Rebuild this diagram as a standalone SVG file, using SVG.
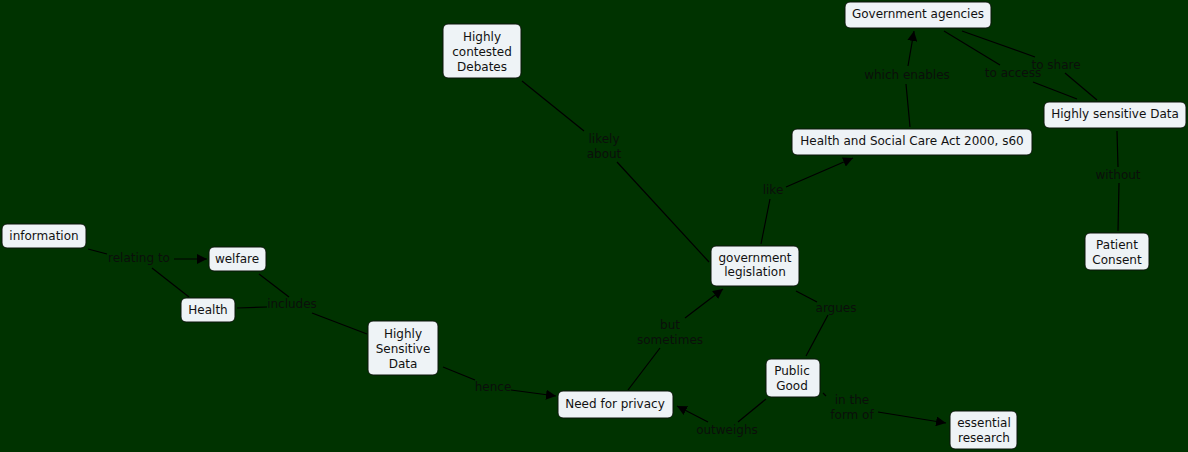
<svg xmlns="http://www.w3.org/2000/svg" width="1188" height="452" viewBox="0 0 1188 452">
<style>
.n rect{fill:#eef3f6;stroke:#0a140a;stroke-width:1}
.n text{font-family:"DejaVu Sans",Verdana,sans-serif;font-size:12px;fill:#111;text-anchor:middle}
.l{font-family:"DejaVu Sans",Verdana,sans-serif;font-size:12px;fill:#0b0f0b;text-anchor:middle}
.c line{stroke:#000;stroke-width:1.2}
.a{marker-end:url(#ah)}
</style>
<defs>
<marker id="ah" viewBox="0 0 10 10" refX="10" refY="5" markerWidth="10" markerHeight="10" markerUnits="userSpaceOnUse" orient="auto">
<path d="M0,0 L10,5 L0,10 z" fill="#000"/>
</marker>
</defs>
<rect width="1188" height="452" fill="#003300"/>
<g id="connectors" class="c">
<line x1="88" y1="249" x2="107" y2="254"/>
<line x1="174" y1="259" x2="207" y2="259" class="a"/>
<line x1="152" y1="268" x2="189" y2="297"/>
<line x1="259" y1="274" x2="289" y2="297"/>
<line x1="237" y1="308" x2="267" y2="307"/>
<line x1="312" y1="313" x2="367" y2="334"/>
<line x1="443" y1="367" x2="475" y2="380"/>
<line x1="511" y1="390" x2="556" y2="396" class="a"/>
<line x1="628" y1="390" x2="660" y2="348"/>
<line x1="685" y1="318" x2="723" y2="289" class="a"/>
<line x1="522" y1="81" x2="584" y2="131"/>
<line x1="617" y1="162" x2="709" y2="262"/>
<line x1="761" y1="244" x2="770" y2="199"/>
<line x1="786" y1="187" x2="853" y2="158" class="a"/>
<line x1="910" y1="127" x2="906" y2="84"/>
<line x1="908" y1="66" x2="914" y2="31" class="a"/>
<line x1="944" y1="31" x2="1000" y2="65"/>
<line x1="1033" y1="82" x2="1077" y2="99"/>
<line x1="962" y1="31" x2="1035" y2="57"/>
<line x1="1065" y1="73" x2="1097" y2="100"/>
<line x1="1117" y1="131" x2="1118" y2="167"/>
<line x1="1119" y1="183" x2="1118" y2="231"/>
<line x1="796" y1="291" x2="817" y2="302"/>
<line x1="828" y1="315" x2="806" y2="356"/>
<line x1="766" y1="399" x2="738" y2="422"/>
<line x1="708" y1="422" x2="677" y2="406" class="a"/>
<line x1="823" y1="393" x2="826" y2="396"/>
<line x1="878" y1="412" x2="946" y2="423" class="a"/>
<text class="l" x="139" y="262">relating to</text>
<text class="l" x="292" y="308">includes</text>
<text class="l" x="493" y="391">hence</text>
<text class="l" x="670" y="329">but</text>
<text class="l" x="670" y="344">sometimes</text>
<text class="l" x="604" y="143">likely</text>
<text class="l" x="604" y="158">about</text>
<text class="l" x="773" y="194">like</text>
<text class="l" x="907" y="79">which enables</text>
<text class="l" x="1013" y="77">to access</text>
<text class="l" x="1056" y="69">to share</text>
<text class="l" x="1118" y="179">without</text>
<text class="l" x="836" y="312">argues</text>
<text class="l" x="727" y="434">outweighs</text>
<text class="l" x="852" y="404">in the</text>
<text class="l" x="852" y="419">form of</text>
</g>
<g id="information" class="n"><rect x="2" y="224" width="84" height="24" rx="5"/><text x="44" y="240">information</text></g>
<g id="welfare" class="n"><rect x="209" y="247" width="57" height="24" rx="5"/><text x="237" y="263">welfare</text></g>
<g id="health" class="n"><rect x="181" y="298" width="54" height="24" rx="5"/><text x="208" y="314">Health</text></g>
<g id="highly-sensitive-data-1" class="n"><rect x="368" y="321" width="70" height="54" rx="5"/><text x="403" y="338">Highly</text><text x="403" y="353">Sensitive</text><text x="403" y="368">Data</text></g>
<g id="need-for-privacy" class="n"><rect x="558" y="391" width="115" height="27" rx="5"/><text x="615" y="408">Need for privacy</text></g>
<g id="government-legislation" class="n"><rect x="711" y="246" width="88" height="40" rx="5"/><text x="755" y="262">government</text><text x="755" y="276">legislation</text></g>
<g id="public-good" class="n"><rect x="766" y="359" width="54" height="38" rx="5"/><text x="792" y="375">Public</text><text x="792" y="390">Good</text></g>
<g id="essential-research" class="n"><rect x="950" y="411" width="67" height="38" rx="5"/><text x="984" y="427">essential</text><text x="984" y="442">research</text></g>
<g id="highly-contested-debates" class="n"><rect x="443" y="24" width="78" height="54" rx="5"/><text x="482" y="41">Highly</text><text x="482" y="56">contested</text><text x="482" y="71">Debates</text></g>
<g id="government-agencies" class="n"><rect x="845" y="2" width="146" height="26" rx="5"/><text x="918" y="18">Government agencies</text></g>
<g id="hsc-act" class="n"><rect x="792" y="129" width="240" height="26" rx="5"/><text x="912" y="145">Health and Social Care Act 2000, s60</text></g>
<g id="highly-sensitive-data-2" class="n"><rect x="1044" y="102" width="142" height="26" rx="5"/><text x="1115" y="118">Highly sensitive Data</text></g>
<g id="patient-consent" class="n"><rect x="1085" y="233" width="64" height="37" rx="5"/><text x="1117" y="249">Patient</text><text x="1117" y="264">Consent</text></g>
</svg>
